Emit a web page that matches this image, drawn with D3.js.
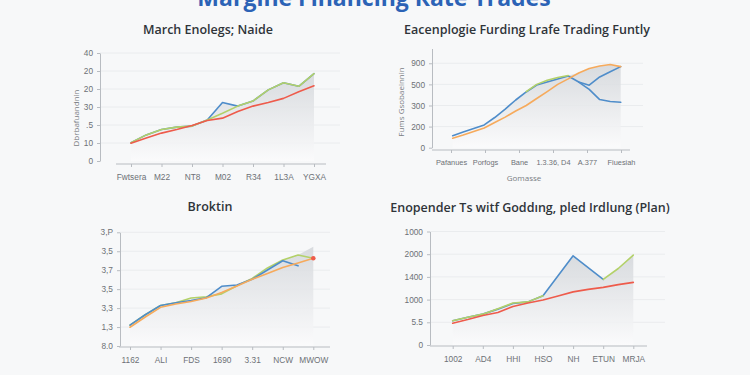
<!DOCTYPE html>
<html>
<head>
<meta charset="utf-8">
<script src="https://cdn.jsdelivr.net/npm/d3@7"></script>
<style>
  body { margin: 0; background: #f7f8f9; }
  svg { display: block; font-family: "Open Sans", sans-serif; }
  .tick text { fill: #6d7176; font-size: 8.3px; }
  .small-ticks .tick text { font-size: 7.4px; }
  .domain, .tick line, .axis-line { stroke: #b8bcc1; }
  .grid line { stroke: #eaecee; }
  .panel-title { fill: #2f3439; font-size: 12.5px; font-weight: 600; text-anchor: middle; }
  .axis-title { fill: #7a7e83; font-size: 8px; text-anchor: middle; }
  .series { fill: none; stroke-width: 1.6; stroke-linejoin: round; stroke-linecap: round; }
</style>
</head>
<body>
<div id="wrapper"></div>
<script>
const mainTitle = "Margine Financing Rate Trades";

// Top left panel
const p1Title = "March Enolegs; Naide";
const p1YTitle = "Dbrbafuandnin";
const p1Categories = ["Fwtsera", "M22", "NT8", "M02", "R34", "1L3A", "YGXA"];
const p1TickValues = [0, 10, 20, 30, 40, 50, 60];
const p1TickLabels = ["0", "10", ".5", "30", "20", "20", "40"];
const p1Blue = [10.2, 14.5, 17.5, 18.8, 19.4, 22.8, 32.5, 30.5, 33.3, 39.5, 43.5, 41.5, 48.5];
const p1Green = [10.2, 14.5, 17.5, 18.8, 19.4, 22.8, 26.5, 30.5, 33.3, 39.5, 43.5, 41.5, 48.5];
const p1Red = [9.9, 12.8, 15.5, 17.5, 19.7, 22.5, 23.8, 27.5, 30.5, 32.5, 34.8, 38.5, 41.8];

// Top right panel
const p2Title = "Eacenplogie Furding Lrafe Trading Funtly";
const p2YTitle = "Fums Gsobaeinnin";
const p2XTitle = "Gomasse";
const p2Categories = ["Pafanues", "Porfogs", "Bane", "1.3.36, D4", "A.377", "Fiuesiah"];
const p2TickValues = [0, 100, 200, 300, 400];
const p2TickLabels = ["0", "200", "300", "500", "900"];
const p2Blue = [57, 74, 91, 108, 143, 183, 226, 264, 297, 311, 326, 340, 311, 276, 228, 219, 215];
const p2BlueBranch = [null, null, null, null, null, null, null, null, null, null, null, null, 311, 296, 335, 360, 384];
const p2Green = [null, null, null, null, null, null, null, 266, 300, 320, 333, 342, null, null, null, null, null];
const p2Orange = [45, 60, 77, 93, 119, 145, 174, 200, 233, 266, 300, 326, 354, 375, 387, 394, 384];

// Bottom left panel
const p3Title = "Broktin";
const p3Categories = ["1162", "ALI", "FDS", "1690", "3.31", "NCW", "MWOW"];
const p3TickValues = [0, 10, 20, 30, 40, 50, 60];
const p3TickLabels = ["8.0", "1,3", "3,3", "3,5", "3,7", "3,5", "3,P"];
const p3Green = [11, 16.5, 21.4, 22.8, 25.3, 26, 27.5, 31.8, 35.7, 41.2, 45.4, 48, 46.3];
const p3Blue = [11, 16.5, 21.4, 22.8, 24, 25.5, 31.5, 32.2, 35.2, 40.1, 45, 42.3, null];
const p3Orange = [9.9, 15.3, 20.4, 22.2, 23.5, 25.3, 28.2, 31.7, 35.2, 38.3, 41.4, 43.8, 46.3];
const p3Fill = [11, 16.5, 21.4, 22.8, 25.3, 26, 31.5, 32.2, 35.7, 41.2, 45.4, 48, 52.4];

// Bottom right panel
const p4Title = "Enopender Ts witf Goddıng, pled Irdlung (Plan)";
const p4Categories = ["1002", "AD4", "HHI", "HSO", "NH", "ETUN", "MRJA"];
const p4TickValues = [0, 100, 200, 300, 400, 500];
const p4TickLabels = ["0", "5.5", "1000", "1400", "2000", "1000"];
const p4Blue = [107, 122, 136, 158, 183, 190, 217, 305, 393, 341, 289, null, null];
const p4Green = [107, 122, 136, 160, 185, 190, 217, null, null, null, 289, 337, 396];
const p4Red = [96, 112, 130, 143, 170, 185, 198, 216, 234, 245, 254, 266, 276];

const colors = {
  blue: "#4f8dca",
  green: "#b3d169",
  red: "#ee5b4b",
  orange: "#f6aa5c",
};

const wrapper = d3.select("#wrapper")
  .append("svg")
    .attr("width", 750)
    .attr("height", 375);

const defs = wrapper.append("defs");
const fillGradient = defs.append("linearGradient")
    .attr("id", "fill-gradient")
    .attr("x1", 0).attr("y1", 0)
    .attr("x2", 0).attr("y2", 1);
fillGradient.append("stop").attr("offset", "0%").attr("stop-color", "#d3d6da");
fillGradient.append("stop").attr("offset", "100%").attr("stop-color", "#fbfbfc");

// The big title sits mostly above the top edge, as in the source picture
wrapper.append("text")
    .attr("x", 374)
    .attr("y", 6)
    .attr("text-anchor", "middle")
    .style("font-size", "23px")
    .style("font-weight", 700)
    .style("fill", "#2c63b6")
    .text(mainTitle);

function drawPanel(p) {
  const g = wrapper.append("g");
  const n = p.series[0].values.length;

  const xScale = d3.scaleLinear()
    .domain([0, n - 1])
    .range(p.dataX);
  const yScale = d3.scaleLinear()
    .domain(p.yDomain)
    .range(p.yRange);
  const catScale = d3.scalePoint()
    .domain(p.categories)
    .range(p.catRange)
    .padding(p.catPadding || 0);

  // grid
  g.append("g")
      .attr("class", "grid")
    .selectAll("line")
    .data(p.tickValues.slice(1))
    .join("line")
      .attr("x1", p.yAxisX)
      .attr("x2", p.gridEnd)
      .attr("y1", d => yScale(d))
      .attr("y2", d => yScale(d));

  // fill under the top line
  const fillValues = p.fill || d3.range(n).map(i => d3.max(p.series, s => s.values[i]));
  const area = d3.area()
    .x((d, i) => xScale(i))
    .y0(yScale(0))
    .y1(d => yScale(d));
  g.append("path")
    .attr("d", area(fillValues))
    .attr("fill", "url(#fill-gradient)")
    .attr("opacity", 0.85);

  // y axis
  const yAxis = d3.axisLeft(yScale)
    .tickValues(p.tickValues)
    .tickFormat((d, i) => p.tickLabels[i])
    .tickSize(3)
    .tickSizeOuter(0)
    .tickPadding(4);
  g.append("g")
    .attr("transform", `translate(${p.yAxisX},0)`)
    .call(yAxis);

  // x axis
  const xAxis = d3.axisBottom(catScale)
    .tickSize(3)
    .tickSizeOuter(0)
    .tickPadding(7);
  const xAxisGroup = g.append("g")
    .attr("class", p.smallTicks ? "small-ticks" : null)
    .attr("transform", `translate(0,${p.xAxisY})`)
    .call(xAxis);
  xAxisGroup.select(".domain").remove();
  xAxisGroup.append("line")
    .attr("class", "axis-line")
    .attr("x1", p.xAxisExtent[0])
    .attr("x2", p.xAxisExtent[1]);

  // lines
  const line = d3.line()
    .defined(d => d != null)
    .x((d, i) => xScale(i))
    .y(d => yScale(d));
  p.series.forEach(s => {
    g.append("path")
      .attr("class", "series")
      .attr("stroke", s.color)
      .attr("d", line(s.values));
  });

  if (p.endDot) {
    const last = p.endDot.values;
    g.append("circle")
      .attr("cx", xScale(last.length - 1))
      .attr("cy", yScale(last[last.length - 1]))
      .attr("r", 2.3)
      .attr("fill", p.endDot.color);
  }

  g.append("text")
    .attr("class", "panel-title")
    .attr("x", p.titlePos[0])
    .attr("y", p.titlePos[1])
    .text(p.title);

  if (p.yTitle) {
    g.append("text")
      .attr("class", "axis-title")
      .attr("transform", `translate(${p.yTitlePos[0]},${p.yTitlePos[1]}) rotate(-90)`)
      .text(p.yTitle);
  }
  if (p.xTitle) {
    g.append("text")
      .attr("class", "axis-title")
      .attr("x", p.xTitlePos[0])
      .attr("y", p.xTitlePos[1])
      .text(p.xTitle);
  }
}

drawPanel({
  title: p1Title, titlePos: [208, 34],
  yTitle: p1YTitle, yTitlePos: [79, 118],
  categories: p1Categories, catRange: [131, 314],
  tickValues: p1TickValues, tickLabels: p1TickLabels,
  yDomain: [0, 60], yRange: [161, 53],
  dataX: [131, 314], yAxisX: 100, gridEnd: 340,
  xAxisY: 164, xAxisExtent: [116, 326],
  series: [
    { values: p1Blue, color: colors.blue },
    { values: p1Green, color: colors.green },
    { values: p1Red, color: colors.red },
  ],
});

drawPanel({
  title: p2Title, titlePos: [527, 34],
  yTitle: p2YTitle, yTitlePos: [404, 102],
  xTitle: p2XTitle, xTitlePos: [524, 181],
  categories: p2Categories, catRange: [434, 638], catPadding: 0.5,
  smallTicks: true,
  tickValues: p2TickValues, tickLabels: p2TickLabels,
  yDomain: [0, 470], yRange: [147.7, 48.5],
  dataX: [452.7, 620.7], yAxisX: 432, gridEnd: 643,
  xAxisY: 150, xAxisExtent: [432, 630],
  series: [
    { values: p2Blue, color: colors.blue },
    { values: p2BlueBranch, color: colors.blue },
    { values: p2Green, color: colors.green },
    { values: p2Orange, color: colors.orange },
  ],
});

drawPanel({
  title: p3Title, titlePos: [210, 211],
  categories: p3Categories, catRange: [130, 313.3],
  tickValues: p3TickValues, tickLabels: p3TickLabels,
  yDomain: [0, 60], yRange: [346, 232.3],
  dataX: [130, 313.3], yAxisX: 120, gridEnd: 330,
  xAxisY: 347, xAxisExtent: [119, 330],
  fill: p3Fill,
  series: [
    { values: p3Green, color: colors.green },
    { values: p3Blue, color: colors.blue },
    { values: p3Orange, color: colors.orange },
  ],
  endDot: { values: p3Orange, color: colors.red },
});

drawPanel({
  title: p4Title, titlePos: [530, 212],
  categories: p4Categories, catRange: [452.7, 633.3],
  tickValues: p4TickValues, tickLabels: p4TickLabels,
  yDomain: [0, 500], yRange: [345, 231.5],
  dataX: [452.7, 633.3], yAxisX: 430, gridEnd: 665,
  xAxisY: 346, xAxisExtent: [430, 647],
  series: [
    { values: p4Blue, color: colors.blue },
    { values: p4Green, color: colors.green },
    { values: p4Red, color: colors.red },
  ],
});
</script>
</body>
</html>
